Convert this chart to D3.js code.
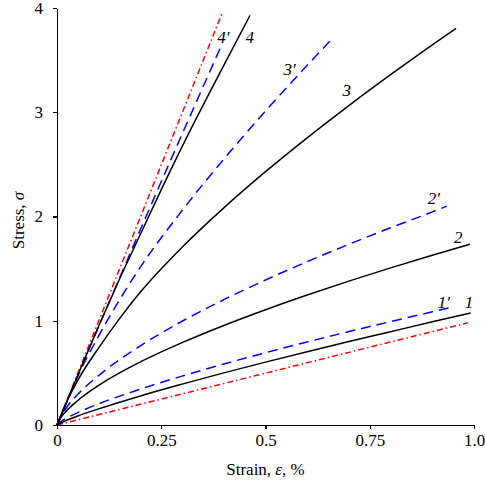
<!DOCTYPE html>
<head>
<meta charset="utf-8">
<title>Stress vs strain</title>
</head>
<style>
body { margin: 0; background: #fff; }
svg text { font-family: "Liberation Serif", "DejaVu Serif", "Times New Roman", serif; }
.axis path, .axis line { fill: none; stroke: #000; stroke-width: 1.3; shape-rendering: crispEdges; }
.axis text { font-size: 17px; fill: #000; }
.lbl { font-style: italic; font-size: 17px; fill: #000; }
</style>
<body>
<div id="chart"></div>
<script src="https://d3js.org/d3.v7.min.js"></script>
<script>

// strain values (%) and stress
var strain1  = [0, 0.01, 0.025, 0.05, 0.1, 0.2, 0.3, 0.4, 0.5, 0.6, 0.7, 0.8, 0.9, 0.992];
var stress1  = [0, 0.022, 0.048, 0.087, 0.155, 0.279, 0.392, 0.50, 0.603, 0.703, 0.80, 0.895, 0.99, 1.075];
var strain1p = [0, 0.01, 0.025, 0.05, 0.1, 0.2, 0.3, 0.4, 0.5, 0.6, 0.7, 0.8, 0.9, 0.942];
var stress1p = [0, 0.035, 0.070, 0.119, 0.203, 0.344, 0.469, 0.585, 0.693, 0.797, 0.896, 0.992, 1.086, 1.125];
var strain2  = [0, 0.01, 0.025, 0.05, 0.1, 0.2, 0.3, 0.4, 0.5, 0.6, 0.7, 0.8, 0.9, 0.99];
var stress2  = [0, 0.075, 0.145, 0.235, 0.38, 0.605, 0.790, 0.955, 1.106, 1.247, 1.380, 1.507, 1.628, 1.733];
var strain2p = [0, 0.01, 0.025, 0.05, 0.1, 0.2, 0.3, 0.4, 0.5, 0.6, 0.7, 0.8, 0.9, 0.935];
var stress2p = [0, 0.085, 0.18, 0.295, 0.475, 0.76, 0.995, 1.202, 1.391, 1.567, 1.733, 1.892, 2.044, 2.10];
var strain3  = [0, 0.01, 0.025, 0.05, 0.1, 0.15, 0.2, 0.3, 0.4, 0.5, 0.6, 0.7, 0.8, 0.9, 0.957];
var stress3  = [0, 0.095, 0.235, 0.43, 0.74, 1.02, 1.275, 1.705, 2.083, 2.430, 2.755, 3.064, 3.360, 3.646, 3.805];
var strain3p = [0, 0.01, 0.025, 0.05, 0.1, 0.15, 0.2, 0.3, 0.4, 0.5, 0.6, 0.654];
var stress3p = [0, 0.097, 0.24, 0.47, 0.855, 1.20, 1.515, 2.057, 2.550, 3.011, 3.450, 3.68];
var strain4  = [0, 0.05, 0.1, 0.15, 0.2, 0.238, 0.3, 0.4, 0.463];
var stress4  = [0, 0.48, 0.95, 1.40, 1.83, 2.155, 2.67, 3.45, 3.93];
var strain4p = [0, 0.05, 0.1, 0.15, 0.2, 0.3, 0.392];
var stress4p = [0, 0.475, 0.945, 1.41, 1.875, 2.79, 3.62];
// red dash-dot reference lines
var strainLo = [0, 0.985];
var stressLo = [0, 0.98];
var strainHi = [0, 0.397];
var stressHi = [0, 3.96];

var xTicks = [0, 0.25, 0.5, 0.75, 1.0];
var xTickLabels = ["0", "0.25", "0.5", "0.75", "1.0"];
var yTicks = [0, 1, 2, 3, 4];

var margin = {top: 8, right: 11, bottom: 59, left: 57},
    width = 485 - margin.left - margin.right,
    height = 484 - margin.top - margin.bottom;

var svg = d3.select("#chart").append("svg")
    .attr("width", 485)
    .attr("height", 484)
  .append("g")
    .attr("transform", "translate(" + margin.left + "," + margin.top + ")");

var x = d3.scaleLinear().domain([0, 1]).range([0, width]);
var y = d3.scaleLinear().domain([0, 4]).range([height, 0]);

svg.append("g").attr("class", "axis")
    .attr("transform", "translate(0," + height + ")")
    .call(d3.axisBottom(x).tickValues(xTicks).tickSize(4).tickSizeOuter(0).tickPadding(5)
      .tickFormat(function(d, i) { return xTickLabels[i]; }));

svg.append("g").attr("class", "axis")
    .call(d3.axisLeft(y).tickValues(yTicks).tickSize(4).tickSizeOuter(0).tickPadding(10)
      .tickFormat(d3.format("d")));

var line = d3.line()
    .x(function(d) { return x(d[0]); })
    .y(function(d) { return y(d[1]); })
    .curve(d3.curveMonotoneX);

function zip(a, b) { return a.map(function(v, i) { return [v, b[i]]; }); }

var series = [
  {xs: strainLo, ys: stressLo, color: "#ff0000", dash: "6,3,1.5,3"},
  {xs: strainHi, ys: stressHi, color: "#ff0000", dash: "6,3,1.5,3"},
  {xs: strain1p, ys: stress1p, color: "#0000ff", dash: "10,6"},
  {xs: strain2p, ys: stress2p, color: "#0000ff", dash: "10,6"},
  {xs: strain3p, ys: stress3p, color: "#0000ff", dash: "10,6"},
  {xs: strain4p, ys: stress4p, color: "#0000ff", dash: "10,6"},
  {xs: strain1, ys: stress1, color: "#000", dash: null},
  {xs: strain2, ys: stress2, color: "#000", dash: null},
  {xs: strain3, ys: stress3, color: "#000", dash: null},
  {xs: strain4, ys: stress4, color: "#000", dash: null}
];

svg.selectAll(".curve")
  .data(series)
  .enter().append("path")
    .attr("class", "curve")
    .attr("d", function(d) { return line(zip(d.xs, d.ys)); })
    .attr("fill", "none")
    .attr("stroke", function(d) { return d.color; })
    .attr("stroke-width", 1.5)
    .attr("stroke-dasharray", function(d) { return d.dash; });

// curve labels
var labelText = ["1", "1\u2032", "2", "2\u2032", "3", "3\u2032", "4", "4\u2032"];
var labelX = [0.988, 0.928, 0.962, 0.904, 0.695, 0.558, 0.462, 0.399];
var labelY = [1.12, 1.12, 1.746, 2.12, 3.156, 3.36, 3.66, 3.66];

svg.selectAll(".lbl")
  .data(labelText)
  .enter().append("text")
    .attr("class", "lbl")
    .attr("x", function(d, i) { return x(labelX[i]); })
    .attr("y", function(d, i) { return y(labelY[i]); })
    .attr("text-anchor", "middle")
    .text(function(d) { return d; });

// axis titles
var xt = svg.append("text")
    .attr("x", width / 2)
    .attr("y", height + 50)
    .attr("text-anchor", "middle")
    .style("font-size", "17px");
xt.append("tspan").text("Strain, ");
xt.append("tspan").style("font-style", "italic").text("\u03b5");
xt.append("tspan").text(", %");

var yt = svg.append("text")
    .attr("transform", "rotate(-90)")
    .attr("x", -(height / 2) - 4)
    .attr("y", -margin.left + 24)
    .attr("text-anchor", "middle")
    .style("font-size", "17px");
yt.append("tspan").text("Stress, ");
yt.append("tspan").style("font-style", "italic").text("\u03c3");

</script>
</body>
